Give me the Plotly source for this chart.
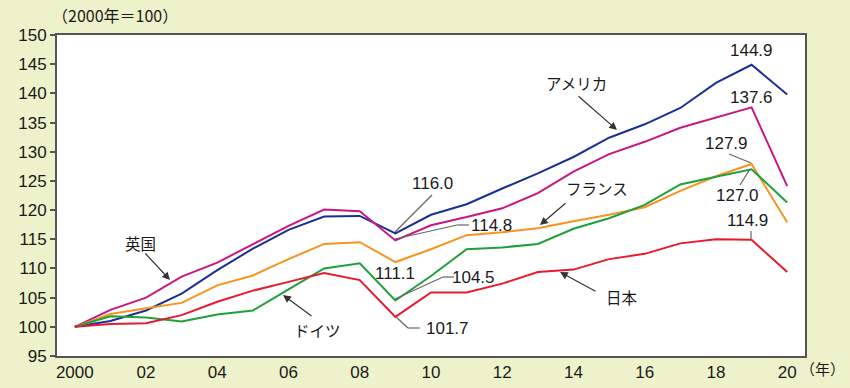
import plotly.graph_objects as go

years = list(range(2000, 2021))
usa = [100, 101.0, 102.8, 105.7, 109.7, 113.4, 116.6, 118.9, 119.0, 116.0, 119.2, 121.0, 123.7, 126.3, 129.1, 132.4, 134.7, 137.5, 141.8, 144.9, 139.8]
uk = [100, 102.9, 105.0, 108.6, 111.0, 114.2, 117.3, 120.1, 119.8, 114.8, 117.4, 118.8, 120.3, 122.9, 126.6, 129.6, 131.7, 134.1, 135.9, 137.6, 124.1]
fra = [100, 102.2, 103.2, 104.1, 107.1, 108.8, 111.6, 114.2, 114.5, 111.1, 113.3, 115.7, 116.2, 116.9, 118.1, 119.2, 120.5, 123.3, 125.8, 127.9, 117.9]
ger = [100, 101.8, 101.6, 100.9, 102.1, 102.8, 106.4, 110.0, 110.9, 104.5, 108.7, 113.3, 113.6, 114.2, 116.8, 118.6, 120.9, 124.4, 125.7, 127.0, 121.3]
jpn = [100, 100.5, 100.6, 102.0, 104.3, 106.2, 107.7, 109.2, 108.0, 101.7, 105.9, 105.9, 107.4, 109.4, 109.8, 111.6, 112.5, 114.3, 115.0, 114.9, 109.4]

x_tickvals = list(range(2000, 2021, 2))
x_ticktext = ["2000", "02", "04", "06", "08", "10", "12", "14", "16", "18", "20"]
y_tickvals = list(range(95, 151, 5))

series = [
    ("アメリカ", usa, "#1b2f94"),
    ("英国", uk, "#c8177e"),
    ("フランス", fra, "#f7931e"),
    ("ドイツ", ger, "#1fa03a"),
    ("日本", jpn, "#e8192c"),
]

# plot area geometry in pixels (for placing labels)
PL, PR, PT, PB = 57, 805, 35, 356
XMIN, XMAX, YMIN, YMAX = 1999.5, 2020.5, 95, 150


def dx(px):
    return XMIN + (px - PL) * (XMAX - XMIN) / (PR - PL)


def dy(py):
    return YMAX - (py - PT) * (YMAX - YMIN) / (PB - PT)


def pxp(px):
    return (px - PL) / (PR - PL)


def pyp(py):
    return (PB - py) / (PB - PT)


fig = go.Figure()
for name, vals, col in series:
    fig.add_trace(go.Scatter(x=years, y=vals, mode="lines", name=name,
                             line=dict(color=col, width=2), hoverinfo="skip"))

NUM_FONT = dict(family="Liberation Sans, Arial, sans-serif", size=17, color="#1a1a1a")
JP_FONT = dict(family="Noto Sans CJK JP, sans-serif", size=15.5, color="#1a1a1a")

annotations = []
shapes = []

# value labels
value_labels = [
    ("144.9", 751, 50), ("137.6", 751, 97), ("127.9", 726, 143),
    ("127.0", 737, 195), ("114.9", 747, 220), ("116.0", 432, 183),
    ("114.8", 491, 225), ("111.1", 395, 273), ("104.5", 473, 277),
    ("101.7", 447, 328),
]
for t, px, py in value_labels:
    annotations.append(dict(x=dx(px), y=dy(py), xref="x", yref="y", text=t,
                            xanchor="center", yanchor="middle",
                            showarrow=False, font=NUM_FONT))

# connector lines (gray)
connectors = [
    [(729, 154), (751, 163)],
    [(750, 169), (740, 185)],
    [(751, 231), (751, 239)],
    [(432, 195), (395, 232)],
    [(395, 239), (457, 225), (469, 225)],
    [(395, 299), (443, 277), (454, 277)],
    [(395, 316), (408, 328), (420, 328)],
]
for pts in connectors:
    for (a, b) in zip(pts[:-1], pts[1:]):
        shapes.append(dict(type="line", xref="x", yref="y",
                           x0=dx(a[0]), y0=dy(a[1]), x1=dx(b[0]), y1=dy(b[1]),
                           line=dict(color="#666", width=1.2)))

# country labels with arrows
country_labels = [
    ("英国", 140, 243, (144, 252), (170, 280)),
    ("ドイツ", 317, 330, (313, 317), (283, 295)),
    ("日本", 622, 297, (597, 292), (560, 272)),
    ("フランス", 597, 188, (567, 202), (540, 225)),
    ("アメリカ", 576, 83, (577, 95), (617, 130)),
]
for t, px, py, tail, head in country_labels:
    annotations.append(dict(x=dx(px), y=dy(py), xref="x", yref="y", text=t,
                            xanchor="center", yanchor="middle",
                            showarrow=False, font=JP_FONT))
    annotations.append(dict(x=dx(head[0]), y=dy(head[1]), xref="x", yref="y",
                            ax=dx(tail[0]), ay=dy(tail[1]), axref="x", ayref="y",
                            text="", showarrow=True, arrowhead=2, arrowsize=1.3,
                            arrowwidth=1.2, arrowcolor="#333"))

annotations.append(dict(x=pxp(115), y=pyp(15), xref="paper", yref="paper",
                        text="（2000年＝100）", xanchor="center", yanchor="middle",
                        showarrow=False,
                        font=dict(family="Noto Sans CJK JP, sans-serif", size=16, color="#1a1a1a")))
annotations.append(dict(x=pxp(822), y=pyp(368), xref="paper", yref="paper",
                        text="（年）", xanchor="center", yanchor="middle", showarrow=False,
                        font=dict(family="Noto Sans CJK JP, sans-serif", size=15, color="#1a1a1a")))

fig.update_layout(
    width=850, height=388,
    margin=dict(l=PL, r=850 - PR, t=PT, b=388 - PB, autoexpand=False),
    paper_bgcolor="#eef2cb",
    plot_bgcolor="#ffffff",
    showlegend=False,
    annotations=annotations,
    shapes=shapes,
    xaxis=dict(range=[XMIN, XMAX], tickvals=x_tickvals, ticktext=x_ticktext,
               showgrid=False, zeroline=False, showline=True, mirror=True,
               linecolor="#555", linewidth=2, ticks="", tickfont=NUM_FONT,
               automargin=False),
    yaxis=dict(range=[YMIN, YMAX], tickvals=y_tickvals, showgrid=False,
               zeroline=False, showline=True, mirror=True, linecolor="#555",
               linewidth=2, ticks="outside", ticklen=5, tickcolor="#555",
               tickwidth=1.5, tickfont=NUM_FONT, automargin=False),
)

fig.write_html("out.html", config={"displayModeBar": False},
               post_script="document.body.style.margin='0px';document.body.style.padding='0px';")
